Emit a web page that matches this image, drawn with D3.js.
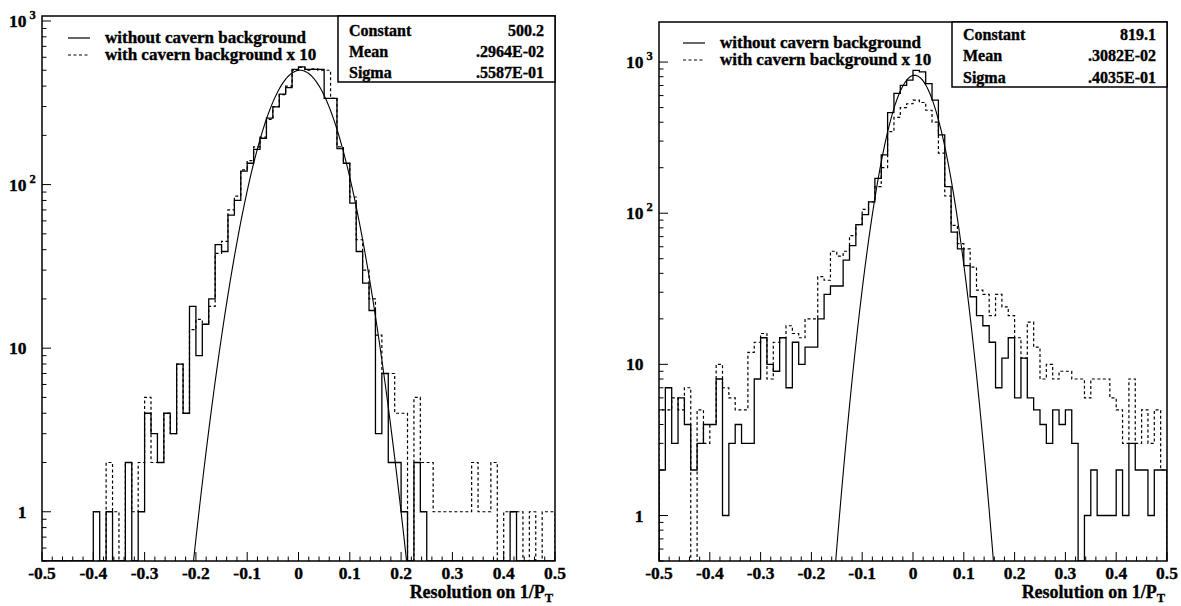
<!DOCTYPE html>
<html><head><meta charset="utf-8">
<script src="https://cdn.jsdelivr.net/npm/d3@7"></script>
<style>body{margin:0;background:#fff}svg{display:block}text{font-family:'Liberation Serif','Times New Roman',serif;font-weight:700;fill:#000;stroke:#000;stroke-width:0.35px}</style>
</head><body><svg id="c" width="1181" height="606"></svg>
<script>
// ---- data ----
const binRange = [-0.5, 0.5];
const nBins = 80;
const xTickValues = [-0.5,-0.4,-0.3,-0.2,-0.1,0,0.1,0.2,0.3,0.4,0.5];
const xTickLabels = ["-0.5","-0.4","-0.3","-0.2","-0.1","0","0.1","0.2","0.3","0.4","0.5"];
const yDecades = [1,10,100,1000];

const leftSolid = [0,0,0,0,0,0,0,0, 1,0,1,0,0,2,0,1, 4,3,2,4,3,8,4,18, 9,14,20,43,39,65,80,121,
  135,164,192,255,299,357,391,506, 525,506,506,506,337,337,166,135, 77,39,25,17,3,7,2,2,
  1,0,2,1,0,0,0,0, 0,0,0,0,0,0,0,0, 0,1,0,0,0,0,0,0];
const leftDashed = [0,0,0,0,0,0,0,0, 0,0,2,1,0,2,1,2, 5,2,2,4,3,8,4,13, 15,14,18,38,45,70,85,123,
  140,170,195,250,300,355,400,500, 520,500,510,500,500,337,170,135, 84,46,30,20,12,7,7,4,
  4,0,5,2,2,1,1,1, 1,1,1,2,1,1,2,0, 1,1,1,0,1,0,1,1];
const rightSolid = [2,7,3,6,4,2,3,4, 4,8,1,3,4,3,3,8, 15,10,9,15,7,14,10,13, 13,20,29,33,33,49,61,84,
  98,119,170,243,463,620,700,760, 880,860,720,560,330,150,75,58, 45,28,21,18,14,7,11,15,
  6,11,6,5,4,3,5,4, 5,3,0,1,2,1,1,1, 2,1,3,2,2,1,2,2];
const rightDashed = [5,5,6,5,7,0,5,3, 4,10,7,6,5,5,12,14, 16,8,14,15,18,16,15,20, 20,38,36,56,52,56,71,84,
  106,119,150,200,347,430,500,530, 560,540,480,400,250,130,83,63, 58,44,31,29,21,29,24,21,
  15,11,19,13,8,10,8,9, 9,8,8,6,8,8,8,6, 5,3,8,3,5,3,5,2];

const leftFit = [500.2, 0.002964, 0.05587];   // Constant, Mean, Sigma
const rightFit = [819.1, 0.003082, 0.04035];
const statNames = ["Constant","Mean","Sigma"];
const leftStatText = ["500.2",".2964E-02",".5587E-01"];
const rightStatText = ["819.1",".3082E-02",".4035E-01"];
const legendLabels = ["without cavern background","with cavern background x 10"];
const axisTitle = ["Resolution on 1/P","T"];

// ---- drawing ----
const svg = d3.select("#c");

const panels = [
  {x0:42, x1:555, y0:16, y1:561, yTop:1073, solid:leftSolid, dashed:leftDashed, fit:leftFit, stat:leftStatText,
   box:{x:338, y:16, w:217, h:66, rows:[30,51,72]}, leg:{x:68, y:[38,55]}},
  {x0:659, x1:1167, y0:22, y1:561, yTop:1841, solid:rightSolid, dashed:rightDashed, fit:rightFit, stat:rightStatText,
   box:{x:952, y:22, w:215, h:65, rows:[34,55,77]}, leg:{x:683, y:[43,60]}}
];

panels.forEach((p, pi) => {
  const g = svg.append("g");
  const x = d3.scaleLinear().domain(binRange).range([p.x0, p.x1]);
  const y = d3.scaleLog().domain([0.5, p.yTop]).range([p.y1, p.y0]);
  const clipId = "clip" + pi;
  svg.append("clipPath").attr("id", clipId).append("rect")
    .attr("x", p.x0).attr("y", p.y0).attr("width", p.x1 - p.x0).attr("height", p.y1 - p.y0);

  const bw = (binRange[1] - binRange[0]) / nBins;
  function histPath(vals) {
    const yy = v => v > 0 ? Math.max(p.y0, y(v)) : p.y1;
    let d = `M${x(binRange[0])},${p.y1}`;
    vals.forEach((v, i) => {
      const xb = x(binRange[0] + (i + 1) * bw);
      d += `V${yy(v)}H${xb}`;
    });
    d += `V${p.y1}`;
    return d;
  }
  const hg = g.append("g").attr("clip-path", `url(#${clipId})`);
  hg.append("path").attr("d", histPath(p.dashed)).attr("fill", "none").attr("stroke", "#000")
    .attr("stroke-width", 1.2).attr("stroke-dasharray", "3,2.5");
  hg.append("path").attr("d", histPath(p.solid)).attr("fill", "none").attr("stroke", "#000")
    .attr("stroke-width", 1.3);

  // fit curve
  const [C, M, S] = p.fit;
  const pts = d3.range(0, 201).map(i => binRange[0] + i * (binRange[1] - binRange[0]) / 200)
    .map(v => [v, C * Math.exp(-0.5 * ((v - M) / S) ** 2)]);
  const line = d3.line().x(d => x(d[0])).y(d => y(Math.max(d[1], 0.3)));
  hg.append("path").attr("d", line(pts)).attr("fill", "none").attr("stroke", "#000").attr("stroke-width", 1.1);

  // frame
  g.append("rect").attr("x", p.x0).attr("y", p.y0).attr("width", p.x1 - p.x0).attr("height", p.y1 - p.y0)
    .attr("fill", "none").attr("stroke", "#000").attr("stroke-width", 1.5);

  // x ticks (inward)
  const minor = d3.range(0, 51).map(i => binRange[0] + i * 0.02);
  g.selectAll(null).data(minor).enter().append("line")
    .attr("x1", d => x(d)).attr("x2", d => x(d))
    .attr("y1", p.y1).attr("y2", (d, i) => p.y1 - (i % 5 === 0 ? 9 : 4.5))
    .attr("stroke", "#000").attr("stroke-width", 1);
  g.selectAll(null).data(xTickValues).enter().append("text")
    .attr("x", d => x(d)).attr("y", 579).attr("text-anchor", "middle")
    .attr("font-size", 17.5)
    .text((d, i) => xTickLabels[i]);

  // y ticks (inward)
  const yMinor = [];
  [0.1, 1, 10, 100, 1000].forEach(dec => {
    for (let k = 1; k <= 9; k++) {
      const v = dec * k;
      if (v >= 0.5 && v <= p.yTop) yMinor.push({v, major: k === 1});
    }
  });
  g.selectAll(null).data(yMinor).enter().append("line")
    .attr("x1", p.x0).attr("x2", d => p.x0 + (d.major ? 9 : 4.5))
    .attr("y1", d => y(d.v)).attr("y2", d => y(d.v))
    .attr("stroke", "#000").attr("stroke-width", 1);
  yDecades.forEach((dv, i) => {
    if (i === 0) {
      g.append("text").attr("x", p.x0 - 20).attr("y", y(dv) + 6).attr("text-anchor", "middle")
        .attr("font-size", 17.5).text("1");
    } else if (i === 1) {
      g.append("text").attr("x", p.x0 - 33).attr("y", y(dv) + 6)
        .attr("font-size", 17.5).text("10");
    } else {
      const t = g.append("text").attr("x", p.x0 - 33).attr("y", y(dv) + 6)
        .attr("font-size", 17.5);
      t.append("tspan").text("10");
      t.append("tspan").attr("dx", 3).attr("dy", -8).attr("font-size", 12.5).text(String(i));
    }
  });

  // axis title
  const at = g.append("text").attr("x", p.x1 - 2).attr("y", 598).attr("text-anchor", "end")
    .attr("font-size", 18);
  at.append("tspan").text(axisTitle[0]);
  at.append("tspan").attr("dy", 4).attr("font-size", 12.5).text(axisTitle[1]);

  // stat box
  g.append("rect").attr("x", p.box.x).attr("y", p.box.y).attr("width", p.box.w).attr("height", p.box.h)
    .attr("fill", "#fff").attr("stroke", "#000").attr("stroke-width", 1.5);
  statNames.forEach((s, i) => {
    g.append("text").attr("x", p.box.x + 11).attr("y", p.box.rows[i] + 5.5)
      .attr("font-size", 16).text(s);
    g.append("text").attr("x", p.box.x + p.box.w - 11).attr("y", p.box.rows[i] + 5.5).attr("text-anchor", "end")
      .attr("font-size", 16).text(p.stat[i]);
  });

  // legend
  legendLabels.forEach((s, i) => {
    g.append("line").attr("x1", p.leg.x).attr("x2", p.leg.x + 22).attr("y1", p.leg.y[i]).attr("y2", p.leg.y[i])
      .attr("stroke", "#000").attr("stroke-width", 1.2).attr("stroke-dasharray", i ? "3,2.5" : null);
    g.append("text").attr("x", p.leg.x + 37).attr("y", p.leg.y[i] + 5)
      .attr("font-size", 17).text(s);
  });
});
</script></body></html>
